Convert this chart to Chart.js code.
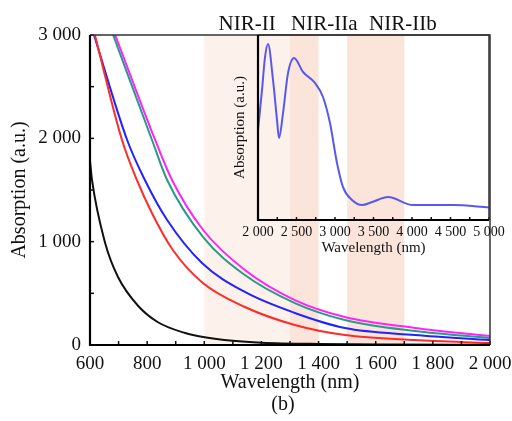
<!DOCTYPE html>
<html>
<head>
<meta charset="utf-8">
<script src="https://cdn.jsdelivr.net/npm/chart.js@4"></script>
<style>
    html, body { margin: 0; padding: 0; background: #fff; }
    #wrap { position: relative; width: 512px; height: 421px; }
    #mainChart { position: absolute; left: 0; top: 0; }
    #insetChart { position: absolute; left: 225px; top: 25px; }
</style>
</head>
<body>
<div id="wrap">
    <canvas id="mainChart" width="512" height="421"></canvas>
    <canvas id="insetChart" width="287" height="240"></canvas>
</div>
<script>
// main spectra (wavelength in nm, absorption in a.u.)
var wlBlack = [600, 607, 653, 698, 768, 838, 933, 996, 1100, 1200, 1400, 1700, 2000];
var absBlack = [1780, 1597, 987, 658, 380, 220, 116, 77, 40, 22, 10, 5, 3];

var wlRed = [617, 712, 764, 817, 890, 995, 1142, 1317, 1492, 1737, 2000];
var absRed = [3000, 1984, 1597, 1275, 919, 600, 368, 194, 97, 48, 19];

var wlBlue = [614, 730, 792, 870, 992, 1142, 1317, 1492, 1737, 2000];
var absBlue = [3000, 1984, 1597, 1210, 794, 513, 310, 165, 97, 48];

var wlTeal = [681, 817, 870, 996, 1142, 1317, 1492, 1737, 2000];
var absTeal = [3000, 1984, 1597, 1045, 677, 406, 242, 135, 68];

var wlMagenta = [688, 828, 887, 996, 1142, 1317, 1492, 1737, 2000];
var absMagenta = [3000, 1984, 1597, 1113, 726, 435, 271, 165, 87];

// inset spectrum
var insetWl = [2000, 2052, 2091, 2130, 2195, 2247, 2273, 2325, 2390, 2468, 2585, 2740, 2844, 2935, 3026, 3104, 3221, 3351, 3481, 3689, 4013, 4533, 5000];
var insetAbs = [0.486, 0.703, 0.88, 0.951, 0.757, 0.54, 0.443, 0.578, 0.795, 0.876, 0.8, 0.741, 0.665, 0.524, 0.308, 0.178, 0.108, 0.081, 0.097, 0.124, 0.081, 0.081, 0.068];

// NIR windows
var bandStart = [1000, 1300, 1500];
var bandEnd = [1300, 1400, 1700];
var bandNames = ['NIR-II', 'NIR-IIa', 'NIR-IIb'];
var bandLabelAt = [1150, 1420, 1695];
var bandColors = ['rgba(252, 236, 230, 0.75)', 'rgba(250, 222, 210, 0.8)', 'rgba(250, 222, 210, 0.8)'];

var SERIF = "'Liberation Serif', 'DejaVu Serif', serif";

function fmt(v) {
    if (v >= 1000) {
        return Math.floor(v / 1000) + ' ' + String(v % 1000).padStart(3, '0');
    }
    return String(v);
}

function pts(xs, ys) {
    return xs.map(function (x, i) { return { x: x, y: ys[i] }; });
}

function line(data, color) {
    return {
        data: data,
        borderColor: color,
        borderWidth: 2,
        pointRadius: 0,
        fill: false,
        cubicInterpolationMode: 'monotone'
    };
}

function noSidePad(s) {
    s.paddingLeft = 0;
    s.paddingRight = 0;
}

// inward ticks and frame
var frameTicks = {
    id: 'frameTicks',
    afterDraw: function (chart, args, opts) {
        var ctx = chart.ctx, a = chart.chartArea;
        ctx.save();
        ctx.strokeStyle = '#111';
        ctx.lineWidth = 1.5;
        var xs = chart.scales.x;
        xs.ticks.forEach(function (t) {
            var px = xs.getPixelForValue(t.value);
            ctx.beginPath();
            ctx.moveTo(px, a.bottom);
            ctx.lineTo(px, a.bottom - opts.len);
            ctx.stroke();
        });
        if (opts.yTicks) {
            var ys = chart.scales.y;
            ys.ticks.forEach(function (t) {
                var py = ys.getPixelForValue(t.value);
                ctx.beginPath();
                ctx.moveTo(a.left, py);
                ctx.lineTo(a.left + opts.len, py);
                ctx.stroke();
            });
        }
        // top and right thinner
        ctx.strokeStyle = '#333';
        ctx.lineWidth = 1.5;
        ctx.beginPath();
        ctx.moveTo(a.left, a.top);
        ctx.lineTo(a.right, a.top);
        ctx.lineTo(a.right, a.bottom);
        ctx.stroke();
        // left and bottom axes
        ctx.strokeStyle = '#000';
        ctx.lineWidth = 2.2;
        ctx.beginPath();
        ctx.moveTo(a.left, a.top);
        ctx.lineTo(a.left, a.bottom);
        ctx.lineTo(a.right, a.bottom);
        ctx.stroke();
        ctx.restore();
    }
};

var bands = {
    id: 'bands',
    beforeDatasetsDraw: function (chart) {
        var ctx = chart.ctx, a = chart.chartArea, xs = chart.scales.x;
        ctx.save();
        for (var i = 0; i < bandStart.length; i++) {
            var x0 = xs.getPixelForValue(bandStart[i]);
            var x1 = xs.getPixelForValue(bandEnd[i]);
            ctx.fillStyle = bandColors[i];
            ctx.fillRect(x0, a.top, x1 - x0, a.bottom - a.top);
        }
        ctx.restore();
    },
    afterDraw: function (chart) {
        var ctx = chart.ctx, xs = chart.scales.x;
        ctx.save();
        ctx.fillStyle = '#111';
        ctx.font = '21px ' + SERIF;
        ctx.textAlign = 'center';
        ctx.textBaseline = 'alphabetic';
        for (var i = 0; i < bandNames.length; i++) {
            ctx.fillText(bandNames[i], xs.getPixelForValue(bandLabelAt[i]), 30);
        }
        ctx.font = '20px ' + SERIF;
        ctx.textBaseline = 'middle';
        ctx.fillText('(b)', 283, 405);
        ctx.restore();
    }
};

var mainChart = new Chart(document.getElementById('mainChart').getContext('2d'), {
    type: 'line',
    data: {
        datasets: [
            line(pts(wlBlack, absBlack), '#111111'),
            line(pts(wlRed, absRed), '#ff2a2a'),
            line(pts(wlBlue, absBlue), '#2222ff'),
            line(pts(wlTeal, absTeal), '#2a9988'),
            line(pts(wlMagenta, absMagenta), '#ff22ff')
        ]
    },
    options: {
        responsive: false,
        animation: false,
        layout: { padding: { top: 35, right: 22, left: 0, bottom: 0 } },
        plugins: {
            legend: { display: false },
            tooltip: { enabled: false },
            frameTicks: { len: 4, yTicks: true }
        },
        scales: {
            x: {
                type: 'linear',
                min: 600,
                max: 2000,
                grid: { display: false, drawTicks: false },
                border: { display: false },
                ticks: {
                    stepSize: 100,
                    autoSkip: false,
                    maxRotation: 0,
                    padding: 8,
                    color: '#111',
                    font: { family: SERIF, size: 19 },
                    callback: function (v) { return v % 200 === 0 ? fmt(v) : ''; }
                },
                title: {
                    display: true,
                    text: 'Wavelength (nm)',
                    color: '#111',
                    font: { family: SERIF, size: 20 },
                    padding: { top: 0, bottom: 26 }
                },
                afterFit: function (s) { s.height = 76; noSidePad(s); }
            },
            y: {
                min: 0,
                max: 3000,
                grid: { display: false, drawTicks: false },
                border: { display: false },
                ticks: {
                    stepSize: 500,
                    autoSkip: false,
                    padding: 9,
                    color: '#111',
                    font: { family: SERIF, size: 19 },
                    callback: function (v) { return v % 1000 === 0 ? fmt(v) : ''; }
                },
                title: {
                    display: true,
                    text: 'Absorption (a.u.)',
                    color: '#111',
                    font: { family: SERIF, size: 20 },
                    padding: { top: 8, bottom: 0 }
                },
                afterFit: function (s) { s.width = 90; }
            }
        }
    },
    plugins: [bands, frameTicks]
});

var insetChart = new Chart(document.getElementById('insetChart').getContext('2d'), {
    type: 'line',
    data: {
        datasets: [
            {
                data: pts(insetWl, insetAbs),
                borderColor: 'rgb(88, 88, 238)',
                borderWidth: 2,
                pointRadius: 0,
                fill: false,
                cubicInterpolationMode: 'monotone'
            }
        ]
    },
    options: {
        responsive: false,
        animation: false,
        layout: { padding: { top: 10, right: 23, left: 0, bottom: 0 } },
        plugins: {
            legend: { display: false },
            tooltip: { enabled: false },
            frameTicks: { len: 3, yTicks: false }
        },
        scales: {
            x: {
                type: 'linear',
                min: 2000,
                max: 5000,
                grid: { display: false, drawTicks: false },
                border: { display: false },
                ticks: {
                    stepSize: 250,
                    autoSkip: false,
                    maxRotation: 0,
                    padding: 4,
                    color: '#111',
                    font: { family: SERIF, size: 14 },
                    callback: function (v) { return v % 500 === 0 ? fmt(v) : ''; }
                },
                title: {
                    display: true,
                    text: 'Wavelength (nm)',
                    color: '#111',
                    font: { family: SERIF, size: 15 },
                    padding: { top: 0, bottom: 8 }
                },
                afterFit: function (s) { s.height = 45; noSidePad(s); }
            },
            y: {
                min: 0,
                max: 1,
                grid: { display: false, drawTicks: false },
                border: { display: false },
                ticks: { display: false },
                title: {
                    display: true,
                    text: 'Absorption (a.u.)',
                    color: '#111',
                    font: { family: SERIF, size: 15 },
                    padding: { top: 6, bottom: 0 }
                },
                afterFit: function (s) { s.width = 33; }
            }
        }
    },
    plugins: [frameTicks]
});
</script>
</body>
</html>
